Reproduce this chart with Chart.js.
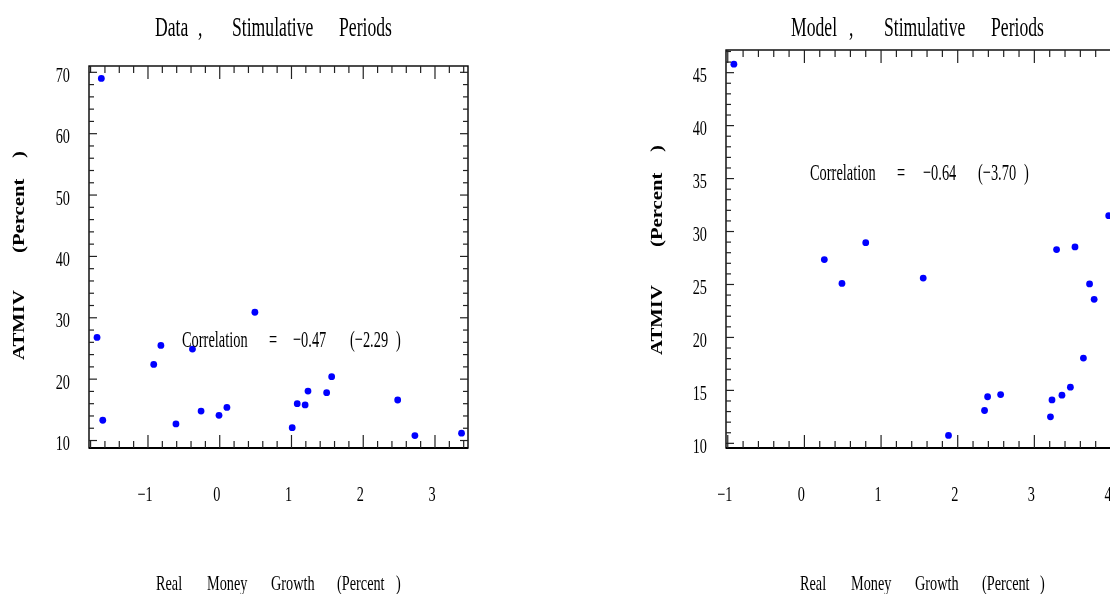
<!DOCTYPE html>
<html>
<head>
<meta charset="utf-8">
<script src="https://cdn.jsdelivr.net/npm/chart.js@4.4.1/dist/chart.umd.min.js"></script>
<style>
  html, body { margin: 0; padding: 0; background: #fff; overflow: hidden; width: 1110px; height: 594px; }
  canvas { position: absolute; top: 0; }
  #left { left: 0; }
  #right { left: 560px; }
</style>
</head>
<body>
<canvas id="left" width="560" height="594"></canvas>
<canvas id="right" width="700" height="594"></canvas>
<script>
// Data, stimulative periods
const dataX = [-1.65, -1.71, -1.63, -0.92, -0.82, -0.61, -0.38, -0.26, -0.01, 0.10,
               0.49, 1.01, 1.08, 1.19, 1.23, 1.49, 1.56, 2.48, 2.72, 3.37];
const dataY = [69.0, 26.8, 13.3, 22.4, 25.5, 12.7, 24.9, 14.8, 14.1, 15.4,
               30.9, 12.1, 16.0, 15.8, 18.05, 17.8, 20.4, 16.6, 10.8, 11.2];

// Model, stimulative periods
const modelX = [-0.92, 0.26, 0.49, 0.80, 1.55, 1.88, 2.35, 2.39, 2.56, 3.21,
                3.23, 3.29, 3.36, 3.47, 3.53, 3.64, 3.72, 3.78, 3.97];
const modelY = [45.8, 27.35, 25.1, 28.95, 25.6, 10.75, 13.1, 14.4, 14.6, 12.5,
                14.1, 28.3, 14.55, 15.3, 28.55, 18.05, 25.05, 23.6, 31.5];

const dataXTicks = [-1, 0, 1, 2, 3];
const dataYTicks = [10, 20, 30, 40, 50, 60, 70];
const modelXTicks = [-1, 0, 1, 2, 3, 4];
const modelYTicks = [10, 15, 20, 25, 30, 35, 40, 45];

const FONT = '"Liberation Serif", "Times New Roman", serif';

function txt(ctx, s, x, y, size, sx, o) {
  o = o || {};
  ctx.save();
  ctx.font = (o.bold ? 'bold ' : '') + size + 'px ' + FONT;
  ctx.translate(x, y);
  if (o.rotate) ctx.rotate(-Math.PI / 2);
  ctx.scale(sx, 1);
  ctx.textAlign = o.align || 'left';
  ctx.textBaseline = o.baseline || 'alphabetic';
  ctx.fillStyle = '#000';
  ctx.fillText(s, 0, 0);
  ctx.restore();
}

function fmt(v) {
  return v < 0 ? '\u2212' + Math.abs(v) : String(v);
}

const framePlugin = {
  id: 'frame',
  afterDraw(chart) {
    const c = chart.options.plugins.frame;
    const ctx = chart.ctx;
    const a = chart.chartArea;
    const xs = chart.scales.x, ys = chart.scales.y;
    const ox = c.ox;

    ctx.save();
    ctx.strokeStyle = '#000';
    ctx.lineWidth = 1.4;
    ctx.strokeRect(a.left, a.top, a.right - a.left, a.bottom - a.top);
    ctx.lineWidth = 2.2;
    ctx.beginPath(); ctx.moveTo(a.left, a.bottom); ctx.lineTo(a.right, a.bottom); ctx.stroke();

    ctx.lineWidth = 1.2;
    ctx.strokeStyle = '#222';
    const seg = (x1, y1, x2, y2) => { ctx.beginPath(); ctx.moveTo(x1, y1); ctx.lineTo(x2, y2); ctx.stroke(); };
    const isMajor = (v, m) => Math.abs(v / m - Math.round(v / m)) < 1e-6;

    for (let i = Math.ceil(xs.min / c.xMinor - 1e-9); i * c.xMinor <= xs.max + 1e-9; i++) {
      const v = i * c.xMinor;
      const px = xs.getPixelForValue(v);
      const len = isMajor(v, c.xMajor) ? 13 : 7;
      seg(px, a.top, px, a.top + len);
      seg(px, a.bottom, px, a.bottom - len);
    }
    for (let i = Math.ceil(ys.min / c.yMinor - 1e-9); i * c.yMinor <= ys.max + 1e-9; i++) {
      const v = i * c.yMinor;
      const py = ys.getPixelForValue(v);
      const len = isMajor(v, c.yMajor) ? 8 : 5;
      seg(a.left, py, a.left + len, py);
      seg(a.right, py, a.right - len, py);
    }
    ctx.restore();

    // tick labels
    c.xTicks.forEach(v => {
      txt(ctx, fmt(v), xs.getPixelForValue(v) - 3, 495, 21, 0.68, { align: 'center', baseline: 'middle' });
    });
    c.yTicks.forEach(v => {
      txt(ctx, String(v), c.yLabelRight - ox, ys.getPixelForValue(v) + 4, 21, 0.68, { align: 'right', baseline: 'middle' });
    });

    // titles and notes
    c.title.forEach(w => txt(ctx, w[0], w[1] - ox, 36, 28, 0.63));
    c.corr.forEach(w => txt(ctx, w[0], w[1] - ox, c.corrY, 24, 0.6));
    c.xTitle.forEach(w => txt(ctx, w[0], w[1] - ox, 590, 21, 0.68));
    c.yTitle.forEach(w => txt(ctx, w[0], c.yTitleX - ox, w[1], 17, 1.22, { bold: true, rotate: true }));
  }
};

function makeChart(id, xv, yv, opts) {
  return new Chart(document.getElementById(id), {
    type: 'scatter',
    data: {
      datasets: [{
        data: xv.map((x, i) => ({ x: x, y: yv[i] })),
        backgroundColor: '#0000ff',
        borderWidth: 0,
        pointRadius: 3.4,
        pointStyle: 'circle'
      }]
    },
    options: {
      responsive: false,
      animation: false,
      layout: { padding: opts.padding },
      scales: {
        x: { type: 'linear', min: opts.xMin, max: opts.xMax, display: false },
        y: { type: 'linear', min: opts.yMin, max: opts.yMax, display: false }
      },
      plugins: {
        legend: { display: false },
        tooltip: { enabled: false },
        frame: opts.frame
      }
    },
    plugins: [framePlugin]
  });
}

makeChart('left', dataX, dataY, {
  padding: { left: 89, right: 92, top: 66, bottom: 146 },
  xMin: -1.822, xMax: 3.46, yMin: 8.78, yMax: 71.03,
  frame: {
    ox: 0, xMinor: 0.2, xMajor: 1, yMinor: 2, yMajor: 10,
    xTicks: dataXTicks, yTicks: dataYTicks, yLabelRight: 70,
    title: [['Data', 155], [',', 198], ['Stimulative', 232], ['Periods', 339]],
    corrY: 347,
    corr: [['Correlation', 182], ['=', 269], ['\u22120.47', 293], ['(\u22122.29', 350], [')', 396]],
    xTitle: [['Real', 156], ['Money', 207], ['Growth', 271], ['(Percent', 337], [')', 396]],
    yTitleX: 24,
    yTitle: [['ATMIV', 360], ['(Percent', 253], [')', 158]]
  }
});

makeChart('right', modelX, modelY, {
  padding: { left: 166, right: 103, top: 50, bottom: 146 },
  xMin: -1.023, xMax: 4.6, yMin: 9.56, yMax: 47.14,
  frame: {
    ox: 560, xMinor: 0.2, xMajor: 1, yMinor: 1, yMajor: 5,
    xTicks: modelXTicks, yTicks: modelYTicks, yLabelRight: 707,
    title: [['Model', 791], [',', 849], ['Stimulative', 884], ['Periods', 991]],
    corrY: 180,
    corr: [['Correlation', 810], ['=', 897], ['\u22120.64', 923], ['(\u22123.70', 978], [')', 1024]],
    xTitle: [['Real', 800], ['Money', 851], ['Growth', 915], ['(Percent', 982], [')', 1040]],
    yTitleX: 662,
    yTitle: [['ATMIV', 355], ['(Percent', 247], [')', 152]]
  }
});
</script>
</body>
</html>
